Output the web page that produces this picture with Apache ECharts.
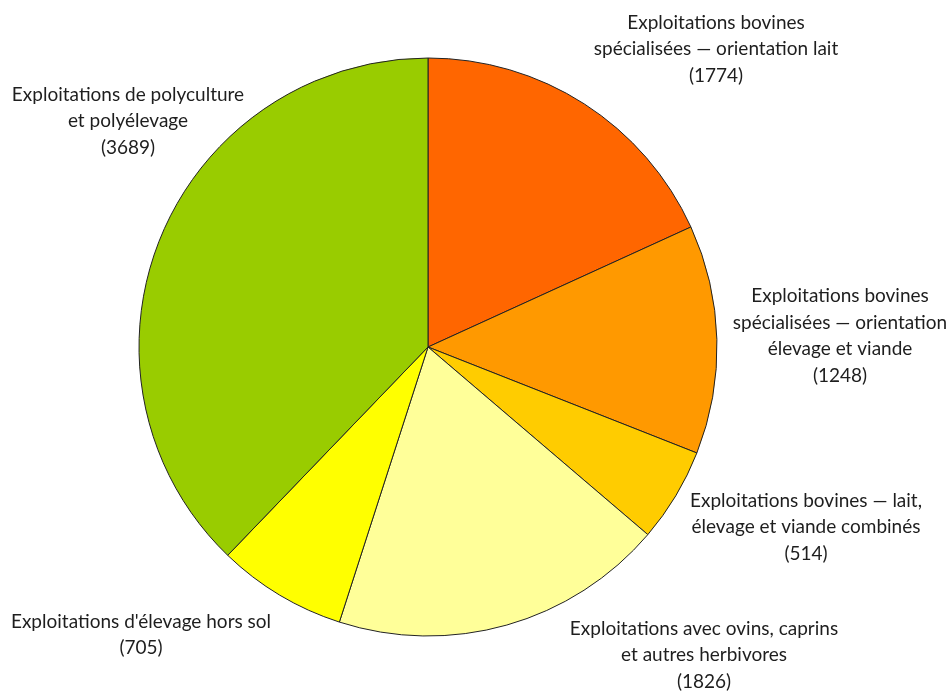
<!DOCTYPE html>
<html>
<head>
<meta charset="utf-8">
<script src="https://cdn.jsdelivr.net/npm/echarts@6/dist/echarts.min.js"></script>
<style>
  html, body { margin: 0; padding: 0; background: #fff; }
  #pie { width: 952px; height: 691px; }
</style>
</head>
<body>
<div id="pie"></div>
<script>
var categories = [
    'Exploitations bovines\nspécialisées — orientation lait',
    'Exploitations bovines\nspécialisées — orientation\nélevage et viande',
    'Exploitations bovines — lait,\nélevage et viande combinés',
    'Exploitations avec ovins, caprins\net autres herbivores',
    "Exploitations d'élevage hors sol",
    'Exploitations de polyculture\net polyélevage'
]
var values = [1774, 1248, 514, 1826, 705, 3689]
var colors = ['#ff6600', '#ff9900', '#ffcc00', '#ffff99', '#ffff00', '#99cc00']

// label block centres, relative to the pie centre
var labelOffsets = [[288, -298], [412, -11], [378, 180], [276, 308], [-287, 288], [-300, -226]]

var cx = 428, cy = 347

var chart = echarts.init(document.getElementById('pie'))

var data = []
values.map(function (v, i) {
    data.push({ name: categories[i], value: v, itemStyle: { color: colors[i] } })
})

chart.setOption({
    animation: false,
    series: [{
        type: 'pie',
        center: [cx, cy],
        radius: 289,
        startAngle: 90,
        clockwise: true,
        avoidLabelOverlap: false,
        data: data,
        itemStyle: { borderColor: '#222', borderWidth: 1 },
        emphasis: { disabled: true },
        labelLine: { show: false },
        label: {
            show: true,
            position: 'outside',
            overflow: 'none',
            fontFamily: 'Lato',
            fontSize: 19,
            lineHeight: 26.5,
            color: '#1e1e1e',
            formatter: function (p) { return p.name + '\n(' + p.value + ')' }
        },
        labelLayout: function (p) {
            var o = labelOffsets[p.dataIndex]
            return { x: cx + o[0], y: cy + o[1], align: 'center', verticalAlign: 'middle' }
        }
    }]
})
</script>
</body>
</html>
